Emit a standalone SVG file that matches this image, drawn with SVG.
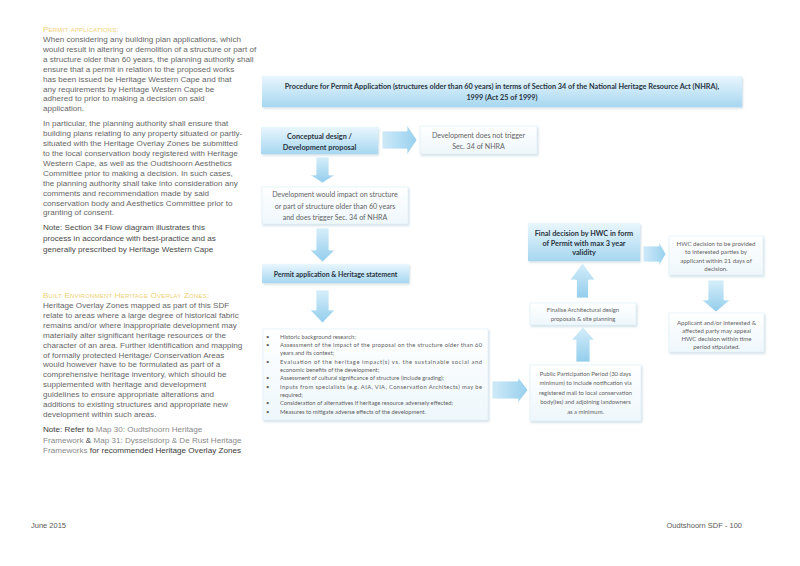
<svg xmlns="http://www.w3.org/2000/svg" width="800" height="566" viewBox="0 0 800 566">
<defs>
<linearGradient id="gBlue" x1="0" y1="0" x2="0" y2="1">
<stop offset="0" stop-color="#e9f6fd"/>
<stop offset="1" stop-color="#a6d7f1"/>
</linearGradient>
<linearGradient id="gLight" x1="0" y1="0" x2="0" y2="1">
<stop offset="0" stop-color="#ffffff"/>
<stop offset="1" stop-color="#eef7fc"/>
</linearGradient>
<linearGradient id="gArrow" x1="0" y1="0" x2="0" y2="1">
<stop offset="0" stop-color="#d6eefa"/>
<stop offset="1" stop-color="#92cdec"/>
</linearGradient>
<linearGradient id="gArrowH" x1="0" y1="0" x2="1" y2="0">
<stop offset="0" stop-color="#cfeaf8"/>
<stop offset="1" stop-color="#97d0ee"/>
</linearGradient>
<filter id="sh" x="-10%" y="-20%" width="120%" height="150%">
<feDropShadow dx="1" dy="1.5" stdDeviation="1.2" flood-color="#8fb3c8" flood-opacity="0.45"/>
</filter>
</defs>
<style>
.side{font-family:"Liberation Sans",Arial,sans-serif;font-size:8.1px;fill:#666666}
.note{fill:#4a4a4a}
.dark{fill:#3a3a3a}
.light{fill:#8a8a8a}
.head{font-family:"Liberation Sans",Arial,sans-serif;font-size:8.1px;fill:#efcf72;font-variant:small-caps;letter-spacing:0.2px}
.foot{font-family:"Liberation Sans",Arial,sans-serif;font-size:7.5px;fill:#5a5a5a}
.bx{fill:url(#gBlue);filter:url(#sh)}
.lb{fill:url(#gLight);stroke:#dcedf7;stroke-width:0.6;filter:url(#sh)}
.ar{fill:url(#gArrow);stroke:#ffffff;stroke-width:0.8}
.arh{fill:url(#gArrowH);stroke:#ffffff;stroke-width:0.8}
.bt{font-family:Lato,"Liberation Sans",sans-serif;font-weight:bold;fill:#2a3440;text-anchor:middle}
.nt{font-family:Lato,"Liberation Sans",sans-serif;fill:#646464;text-anchor:middle}
.bl{font-family:Lato,"Liberation Sans",sans-serif;font-size:5.8px;fill:#5e5e5e}
</style>
<rect width="800" height="566" fill="#ffffff"/>

<g id="side-text">
<text class="head" x="43" y="31.5">Permit applications:</text>
<text class="side" x="43" y="42">When considering any building plan applications, which</text>
<text class="side" x="43" y="51.9">would result in altering or demolition of a structure or part of</text>
<text class="side" x="43" y="61.8">a structure older than 60 years, the planning authority shall</text>
<text class="side" x="43" y="71.7">ensure that a permit in relation to the proposed works</text>
<text class="side" x="43" y="81.6">has been issued be Heritage Western Cape and that</text>
<text class="side" x="43" y="91.5">any requirements by Heritage Western Cape be</text>
<text class="side" x="43" y="101.4">adhered to prior to making a decision on said</text>
<text class="side" x="43" y="111.3">application.</text>
<text class="side" x="43" y="126.3">In particular, the planning authority shall ensure that</text>
<text class="side" x="43" y="136.2">building plans relating to any property situated or partly-</text>
<text class="side" x="43" y="146.1">situated with the Heritage Overlay Zones be submitted</text>
<text class="side" x="43" y="156">to the local conservation body registered with Heritage</text>
<text class="side" x="43" y="165.9">Western Cape, as well as the Oudtshoorn Aesthetics</text>
<text class="side" x="43" y="175.8">Committee prior to making a decision. In such cases,</text>
<text class="side" x="43" y="185.7">the planning authority shall take into consideration any</text>
<text class="side" x="43" y="195.6">comments and recommendation made by said</text>
<text class="side" x="43" y="205.5">conservation body and Aesthetics Committee prior to</text>
<text class="side" x="43" y="215.4">granting of consent.</text>
<text class="side note" x="43" y="230">Note: Section 34 Flow diagram illustrates this</text>
<text class="side note" x="43" y="241">process in accordance with best-practice and as</text>
<text class="side note" x="43" y="252">generally prescribed by Heritage Western Cape</text>

<text class="head" x="43" y="298">Built Environment Heritage Overlay Zones:</text>
<text class="side" x="43" y="308">Heritage Overlay Zones mapped as part of this SDF</text>
<text class="side" x="43" y="317.9">relate to areas where a large degree of historical fabric</text>
<text class="side" x="43" y="327.8">remains and/or where inappropriate development may</text>
<text class="side" x="43" y="337.7">materially alter significant heritage resources or the</text>
<text class="side" x="43" y="347.6">character of an area. Further identification and mapping</text>
<text class="side" x="43" y="357.5">of formally protected Heritage/ Conservation Areas</text>
<text class="side" x="43" y="367.4">would however have to be formulated as part of a</text>
<text class="side" x="43" y="377.3">comprehensive heritage inventory, which should be</text>
<text class="side" x="43" y="387.2">supplemented with heritage and development</text>
<text class="side" x="43" y="397.1">guidelines to ensure appropriate alterations and</text>
<text class="side" x="43" y="407">additions to existing structures and appropriate new</text>
<text class="side" x="43" y="416.9">development within such areas.</text>
<text class="side" x="43" y="432"><tspan class="dark">Note: Refer to </tspan><tspan class="light">Map 30: Oudtshoorn Heritage</tspan></text>
<text class="side" x="43" y="442.5"><tspan class="light">Framework </tspan><tspan class="dark">&amp; </tspan><tspan class="light">Map 31: Dysselsdorp &amp; De Rust Heritage</tspan></text>
<text class="side" x="43" y="453"><tspan class="light">Frameworks </tspan><tspan class="dark">for recommended Heritage Overlay Zones</tspan></text>
</g>

<g id="connectors">
<path class="arh" d="M382 131 L407 131 L407 125 L417 140 L407 155 L407 149 L382 149 Z"/>
<path class="ar" d="M316 157 L329 157 L329 175 L335 175 L322.5 183 L310 175 L316 175 Z"/>
<path class="ar" d="M316 228 L329 228 L329 250 L335 250 L322.5 262 L310 250 L316 250 Z"/>
<path class="ar" d="M316 290 L329 290 L329 310 L335 310 L322.5 323 L310 310 L316 310 Z"/>
<path class="arh" d="M492 381 L518 381 L518 377 L528 390 L518 403 L518 399 L492 399 Z"/>
<path class="ar" d="M576 362 L590 362 L590 340 L594.5 340 L583 327 L571.5 340 L576 340 Z"/>
<path class="ar" d="M576.5 298 L588.5 298 L588.5 280 L595 280 L582.5 263 L570 280 L576.5 280 Z"/>
<path class="arh" d="M643 246 L659 246 L659 242 L666 254 L659 266 L659 262 L643 262 Z"/>
<path class="ar" d="M708 280 L724 280 L724 300 L730 300 L716 312 L702 300 L708 300 Z"/>
</g>

<g id="title">
<rect class="bx" x="262" y="76" width="480" height="31"/>
<text class="bt" x="502" y="88.5" font-size="7.3">Procedure for Permit Application (structures older than 60 years) in terms of Section 34 of the National Heritage Resource Act (NHRA),</text>
<text class="bt" x="502" y="99.5" font-size="7.3">1999 (Act 25 of 1999)</text>
</g>

<g id="conceptual">
<rect class="bx" x="261" y="127" width="117" height="27"/>
<text class="bt" x="319.5" y="139" font-size="7.3">Conceptual design /</text>
<text class="bt" x="319.5" y="149.5" font-size="7.3">Development proposal</text>
</g>

<g id="no-trigger">
<rect class="lb" x="420" y="126" width="117" height="28"/>
<text class="nt" x="478.5" y="138" font-size="7.1">Development does not trigger</text>
<text class="nt" x="478.5" y="149" font-size="7.1">Sec. 34 of NHRA</text>
</g>

<g id="trigger">
<rect class="lb" x="262" y="187" width="146" height="37"/>
<text class="nt" x="335" y="197" font-size="7.1">Development would impact on structure</text>
<text class="nt" x="335" y="208.5" font-size="7.1">or part of structure older than 60 years</text>
<text class="nt" x="335" y="220" font-size="7.1">and does trigger Sec. 34 of NHRA</text>
</g>

<g id="permit-application">
<rect class="bx" x="262" y="264" width="147" height="19"/>
<text class="bt" x="335.5" y="276.5" font-size="6.9">Permit application &amp; Heritage statement</text>
</g>

<g id="statement-items">
<rect class="lb" x="263" y="329" width="225" height="91"/>
<g class="bl">
<text x="266" y="338.7">•</text><text x="280" y="338.7">Historic background research;</text>
<text x="266" y="347">•</text><text x="280" y="347" textLength="202" lengthAdjust="spacing">Assessment of the impact of the proposal on the structure older than 60</text>
<text x="280" y="355.4">years and its context;</text>
<text x="266" y="363.7">•</text><text x="280" y="363.7" textLength="202" lengthAdjust="spacing">Evaluation of the heritage impact(s) vs. the sustainable social and</text>
<text x="280" y="372">economic benefits of the development;</text>
<text x="266" y="380.4">•</text><text x="280" y="380.4">Assessment of cultural significance of structure (include grading);</text>
<text x="266" y="388.7">•</text><text x="280" y="388.7" textLength="202" lengthAdjust="spacing">Inputs from specialists (e.g. AIA, VIA, Conservation Architects) may be</text>
<text x="280" y="397">required;</text>
<text x="266" y="405.4">•</text><text x="280" y="405.4">Consideration of alternatives if heritage resource adversely effected;</text>
<text x="266" y="413.7">•</text><text x="280" y="413.7">Measures to mitigate adverse effects of the development.</text>
</g>
</g>

<g id="public-participation">
<rect class="lb" x="530" y="365" width="111" height="56"/>
<text class="nt" x="585.5" y="375.5" font-size="5.9">Public Participation Period (30 days</text>
<text class="nt" x="585.5" y="385" font-size="5.9">minimum) to include notification via</text>
<text class="nt" x="585.5" y="394.5" font-size="5.9">registered mail to local conservation</text>
<text class="nt" x="585.5" y="404.3" font-size="5.9">body(ies) and adjoining landowners</text>
<text class="nt" x="585.5" y="414" font-size="5.9">as a minimum.</text>
</g>

<g id="finalise">
<rect class="lb" x="530" y="303" width="106" height="22"/>
<text class="nt" x="583" y="311.5" font-size="5.9">Finalise Architectural design</text>
<text class="nt" x="583" y="320.5" font-size="5.9">proposals &amp; site planning</text>
</g>

<g id="final-decision">
<rect class="bx" x="528" y="223" width="112" height="38"/>
<text class="bt" x="584" y="236" font-size="7.3">Final decision by HWC in form</text>
<text class="bt" x="584" y="245.5" font-size="7.3">of Permit with max 3 year</text>
<text class="bt" x="584" y="255" font-size="7.3">validity</text>
</g>

<g id="hwc-decision">
<rect class="lb" x="669" y="236" width="94" height="39"/>
<text class="nt" x="716" y="245.5" font-size="6.1">HWC decision to be provided</text>
<text class="nt" x="716" y="254" font-size="6.1">to interested parties by</text>
<text class="nt" x="716" y="262.5" font-size="6.1">applicant within 21 days of</text>
<text class="nt" x="716" y="271" font-size="6.1">decision.</text>
</g>

<g id="appeal">
<rect class="lb" x="669" y="313" width="95" height="39"/>
<text class="nt" x="716.5" y="324.5" font-size="6.1">Applicant and/or interested &amp;</text>
<text class="nt" x="716.5" y="332.5" font-size="6.1">affected party may appeal</text>
<text class="nt" x="716.5" y="340.5" font-size="6.1">HWC decision within time</text>
<text class="nt" x="716.5" y="348.5" font-size="6.1">period stipulated.</text>
</g>

<g id="footer">
<text class="foot" x="31" y="528">June 2015</text>
<text class="foot" x="742" y="528" text-anchor="end">Oudtshoorn SDF - 100</text>
</g>
</svg>
